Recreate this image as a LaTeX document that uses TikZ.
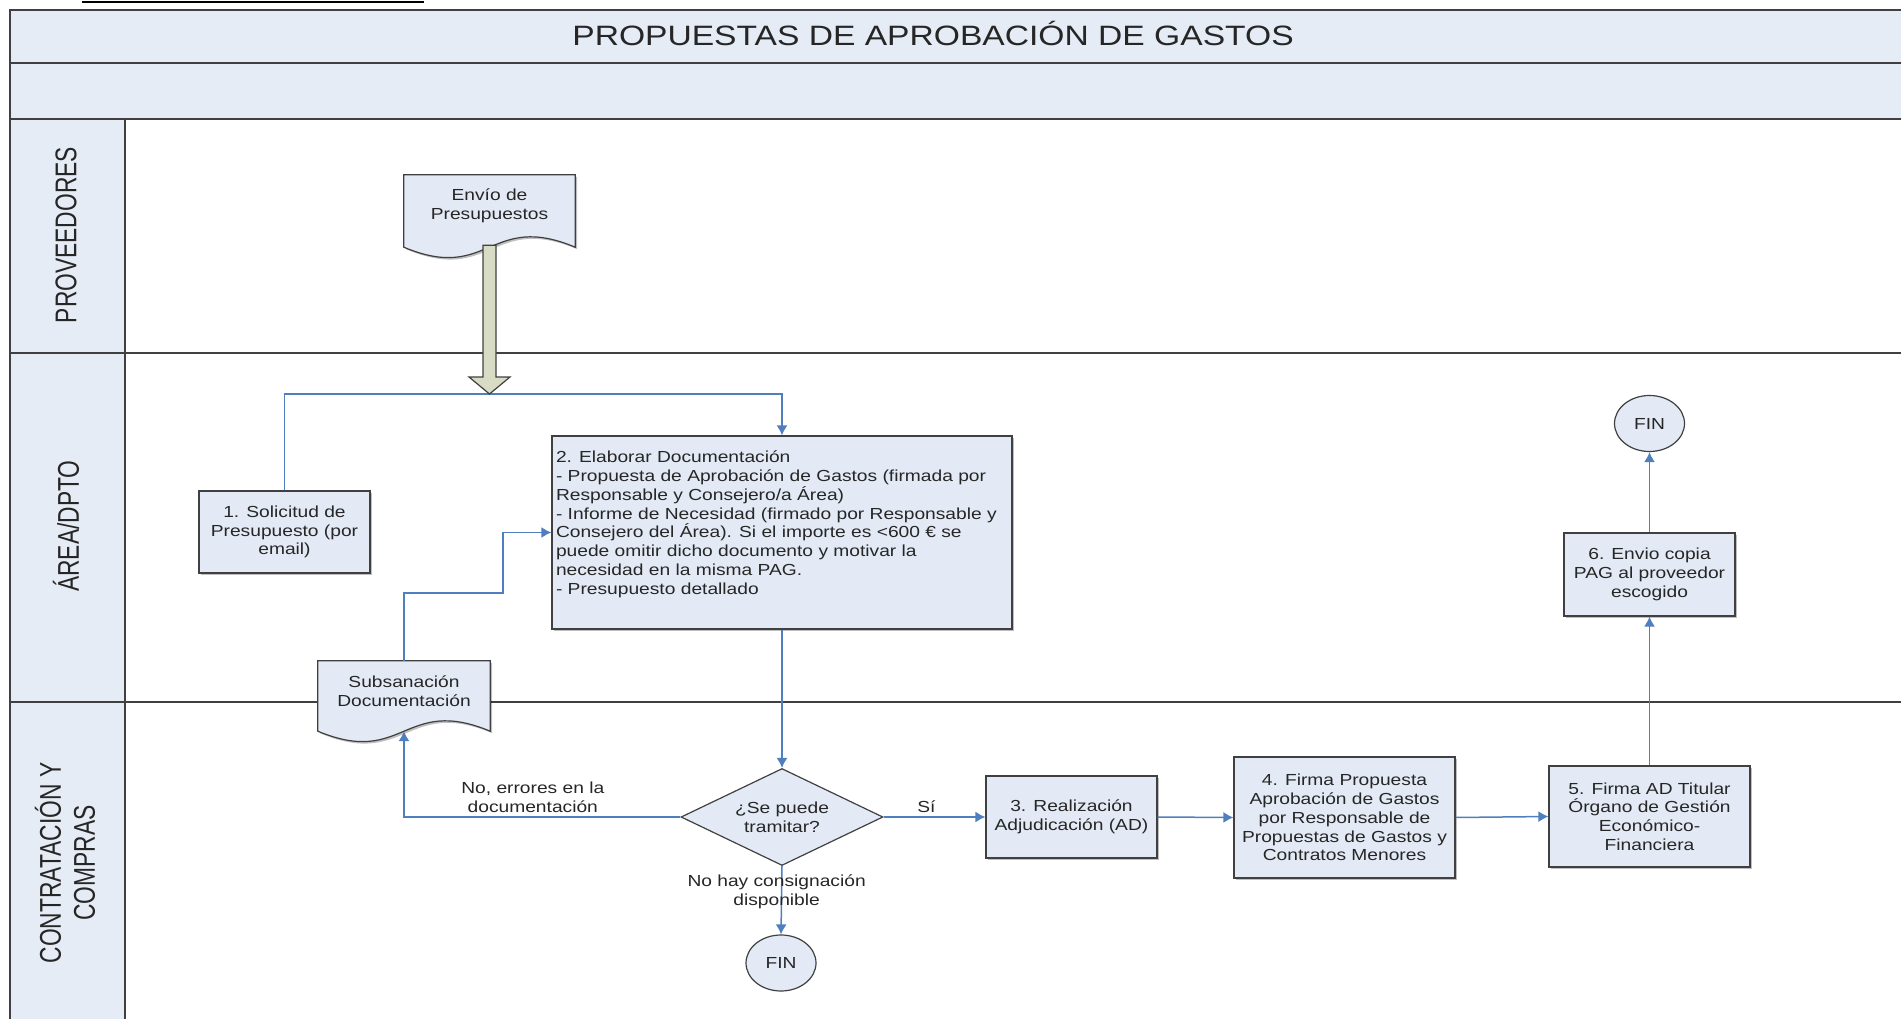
\documentclass[tikz,border=0pt]{standalone}
\usepackage{fontspec}
\setmainfont{Liberation Sans}[FakeStretch=1.2]
\newfontfamily\lanefont{Liberation Sans}[FakeStretch=0.76]
\usepackage{tikz}
\usetikzlibrary{arrows.meta,shapes.geometric,calc,shadows}
\definecolor{bandblue}{HTML}{E6ECF5}
\definecolor{boxblue}{HTML}{E3EAF5}
\definecolor{flowblue}{HTML}{4F7FBE}
\definecolor{framegray}{HTML}{404040}
\definecolor{textgray}{HTML}{262626}
\definecolor{arrowolive}{HTML}{D8DCC5}
\newcommand{\boxfont}{\fontsize{16}{18.8}\selectfont}
\newcommand{\docshape}[2]{%
  \draw[docline] (#1.south west) -- (#1.north west) -- (#1.north east) -- (#1.south east)
    .. controls ($(#1.south)+(0,-36)$) and ($(#1.south)+(0,36)$) .. (#1.south west) -- cycle;
  \node[lbl] (#1-t) at ($(#1)+(0,-5)$) {#2};}

\begin{document}
\begin{tikzpicture}[x=1pt,y=-1pt,>={Latex[length=10pt,width=11pt]},
	lane/.style={draw=framegray,line width=1.4pt},
	box/.style={draw=framegray,fill=boxblue,line width=1.2pt,align=center,inner sep=2pt,font=\boxfont,
		text=textgray,drop shadow={shadow xshift=2pt,shadow yshift=-2pt,fill=black,opacity=.25}},
	docline/.style={draw=framegray,fill=boxblue,line width=1.2pt,
		drop shadow={shadow xshift=2pt,shadow yshift=-2pt,fill=black,opacity=.25}},
	docnode/.style={inner sep=0pt},
	decision/.style={diamond,draw=framegray,fill=boxblue,line width=1.2pt,aspect=2.1,align=center,
		inner sep=1pt,font=\boxfont,text=textgray,minimum width=202pt,minimum height=97pt},
	fin/.style={ellipse,draw=framegray,fill=boxblue,line width=1.2pt,font=\boxfont,text=textgray,
		minimum width=70pt,minimum height=56pt,inner sep=0pt},
	flow/.style={->,draw=flowblue,line width=1.5pt},
	lbl/.style={align=center,font=\boxfont,text=textgray},
	lanelbl/.style={rotate=90,align=center,text=textgray,font={\lanefont\fontsize{30}{34}\selectfont}},
	bigarrow/.style={draw=framegray,fill=arrowolive,line width=1.2pt}]
	\useasboundingbox (0,0) rectangle (1901,1019);

	%%  Swimlanes  %%%%%%%%
	\draw[line width=2pt] (82,2.5) -- (424,2.5);
	\fill[bandblue] (10,10) rectangle (1901,119);
	\fill[bandblue] (10,119) rectangle (125,1019);
	\draw[lane] (1901,10) -- (10,10) -- (10,1019);
	\draw[lane] (10,63) -- (1901,63);
	\draw[lane] (10,119) -- (1901,119);
	\draw[lane] (10,353) -- (1901,353);
	\draw[lane] (10,702) -- (1901,702);
	\draw[lane] (125,119) -- (125,1019);
	\node[font=\fontsize{28}{32}\selectfont,text=textgray] (titulo) at (933,33) {PROPUESTAS DE APROBACIÓN DE GASTOS};
	\node[lanelbl] (proveedores) at (66,235) {PROVEEDORES};
	\node[lanelbl] (area) at (66,526) {ÁREA/DPTO};
	\node[lanelbl] (compras) at (65,863) {CONTRATACIÓN Y\\COMPRAS};
	%%%%%%%%%%%%%%%

	%%  Steps  %%%%%%%%
	\node[docnode,minimum width=171pt,minimum height=72pt] (envio) at (489.5,211) {};
	\docshape{envio}{Envío de\\Presupuestos}
	\node[docnode,minimum width=172pt,minimum height=70pt] (subs) at (404,696) {};
	\docshape{subs}{Subsanación\\Documentación}
	\node[box,minimum width=171pt,minimum height=82pt] (sol) at (284.5,532) {1. Solicitud de\\Presupuesto (por\\email)};
	\node[box,minimum width=460pt,minimum height=193pt,inner sep=0pt] (elab) at (782,532.5)
		{\parbox[c][163pt][t]{452pt}{\raggedright 2. Elaborar Documentación\\
		- Propuesta de Aprobación de Gastos (firmada por\\
		Responsable y Consejero/a Área)\\
		- Informe de Necesidad (firmado por Responsable y\\
		Consejero del Área). Si el importe es <600 € se\\
		puede omitir dicho documento y motivar la\\
		necesidad en la misma PAG.\\
		- Presupuesto detallado}};
	\node[decision] (dec) at (782,817) {¿Se puede\\tramitar?};
	\node[fin] (fin1) at (781,963) {FIN};
	\node[box,minimum width=171pt,minimum height=82pt] (adj) at (1071.5,817) {3. Realización\\Adjudicación (AD)};
	\node[box,minimum width=221pt,minimum height=121pt] (firma) at (1344.5,817.5)
		{4. Firma Propuesta\\Aprobación de Gastos\\por Responsable de\\Propuestas de Gastos y\\Contratos Menores};
	\node[box,minimum width=201pt,minimum height=101pt] (firmaad) at (1649.5,816.5)
		{5. Firma AD Titular\\Órgano de Gestión\\Económico-\\Financiera};
	\node[box,minimum width=171pt,minimum height=83pt] (copia) at (1649.5,574.5) {6. Envio copia\\PAG al proveedor\\escogido};
	\node[fin] (fin2) at (1649.5,423.5) {FIN};
	%%%%%%%%%%%%%%%

	%%  Connectors  %%%%%%%%
	\coordinate (join) at (489.5,394);
	\coordinate (bend) at (503,593);
	\draw[flow] (sol.north) |- (join) -| (elab.north);
	\draw[bigarrow] ($(envio.south)+(-6.5,-2)$) -- ($(join)+(-6.5,-17)$) -- ($(join)+(-20.5,-17)$) -- (join)
		-- ($(join)+(20.5,-17)$) -- ($(join)+(6.5,-17)$) -- ($(envio.south)+(6.5,-2)$) -- cycle;
	\draw[flow] (subs.north) |- (bend) |- (elab.west);
	\draw[flow] (elab.south) -- (dec.north);
	\draw[flow] (dec.west) -| node[lbl,above,pos=.267] (noerr) {No, errores en la\\documentación} (subs.south);
	\draw[flow] (dec.east) -- node[lbl,above,pos=.42] (si) {Sí} (adj.west);
	\draw[flow] (dec.south) -- node[lbl,pos=.38,xshift=-5pt] (nocons) {No hay consignación\\disponible} (fin1.north);
	\draw[flow] (adj.east) -- (firma.west);
	\draw[flow] (firma.east) -- (firmaad.west);
	\draw[flow] (firmaad.north) -- (copia.south);
	\draw[flow] (copia.north) -- (fin2.south);
	%%%%%%%%%%%%%%%
\end{tikzpicture}
\end{document}
